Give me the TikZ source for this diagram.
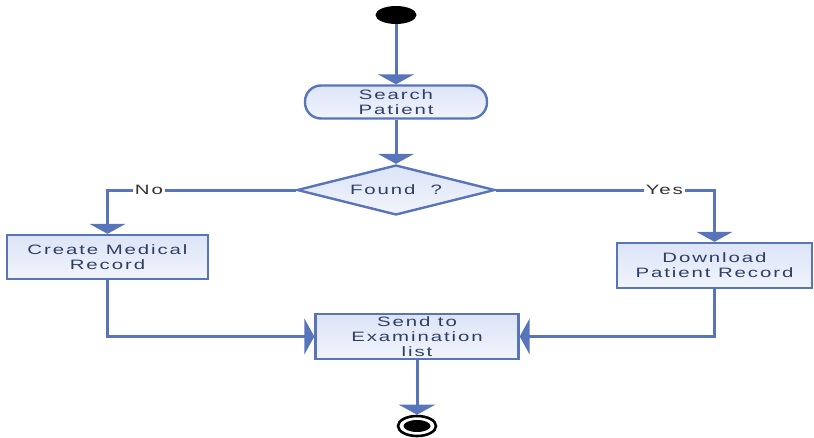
\documentclass[tikz,border=0pt]{standalone}
\usepackage{fontspec}
\setmainfont{Liberation Sans}
\newfontfamily\flowfont[FakeStretch=1.5,LetterSpace=14]{Liberation Sans}
\usetikzlibrary{shapes.geometric,arrows.meta}
\definecolor{flowline}{HTML}{5874BA}
\definecolor{boxtop}{HTML}{DCE4F7}
\definecolor{boxbot}{HTML}{F1F4FC}
\definecolor{flowtext}{HTML}{2F3F63}
\tikzset{
  x=1pt, y=-1pt,
  box/.style={draw=flowline, line width=2.4pt, top color=boxtop, bottom color=boxbot,
    text=flowtext, font=\flowfont\fontsize{13.6}{15}\selectfont, align=center,
    inner sep=0pt},
  flow/.style={draw=flowline, line width=3pt,
    -{Triangle[width=36pt,length=10pt]}},
  lbl/.style={fill=white, text=black!80, font=\flowfont\fontsize{13.6}{15}\selectfont,
    inner sep=2pt},
}
\begin{document}
\begin{tikzpicture}
\useasboundingbox (0,0) rectangle (814,437);

% start and end states
\node[ellipse, fill=black, minimum width=41pt, minimum height=18pt, inner sep=0pt] (start) at (396,15) {};
\node[ellipse, draw=black, line width=2.6pt, fill=white, minimum width=38pt, minimum height=20pt, inner sep=0pt] (stop) at (417,426) {};
\node[ellipse, fill=black, minimum width=27pt, minimum height=12pt, inner sep=0pt] (stopdot) at (stop.center) {};

% activities
\node[box, rounded corners=16pt, minimum width=182pt, minimum height=33pt] (search) at (396,102) {Search\\Patient};
\node[box, diamond, aspect=3.96, minimum width=198pt, minimum height=50pt] (found) at (396,190) {Found\ \ ?};
\node[box, minimum width=201pt, minimum height=44pt] (create) at (107.5,257) {Create Medical\\Record};
\node[box, minimum width=195pt, minimum height=45pt] (download) at (714.5,265.5) {Download\\Patient Record};
\node[box, minimum width=203pt, minimum height=45pt] (send) at (417,336.5) {Send to\\Examination\\list};

% connectors
\draw[flow] (start) -- (search);
\draw[flow] (search) -- (found);
\draw[flow] (found.west) -| node[lbl, pos=0.39] {No} (create.north);
\draw[flow] (found.east) -| node[lbl, pos=0.385] {Yes} (download.north);
\draw[flow] (create.south) |- (send.west);
\draw[flow] (download.south) |- (send.east);
\draw[flow] (send.south) -- (stop.north);
\end{tikzpicture}
\end{document}
